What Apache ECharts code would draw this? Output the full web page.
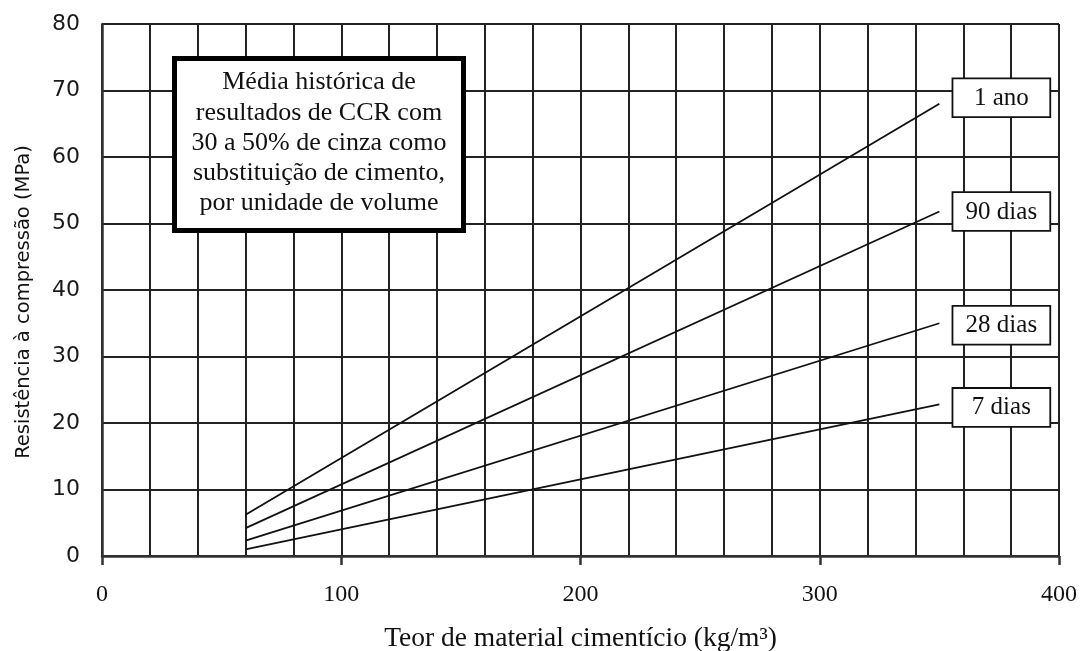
<!DOCTYPE html>
<html>
<head>
<meta charset="utf-8">
<script src="https://cdn.jsdelivr.net/npm/echarts@6/dist/echarts.min.js"></script>
<style>
  html, body { margin: 0; padding: 0; background: #fff; }
  #chart { width: 1082px; height: 651px; }
</style>
</head>
<body>
<div id="chart"></div>
<script>
// Cement content (kg/m³) at the two ends of each strength line
const cementContent = [60, 350];

// Compressive strength (MPa) by age, at the cement contents above
const strength1Year = [6.2, 68.0];
const strength90Days = [4.2, 51.8];
const strength28Days = [2.3, 35.0];
const strength7Days = [1.0, 22.8];

const seriesNames = ['1 ano', '90 dias', '28 dias', '7 dias'];

const noteLines = [
  'Média histórica de',
  'resultados de CCR com',
  '30 a 50% de cinza como',
  'substituição de cimento,',
  'por unidade de volume'
];

const xAxisTitle = 'Teor de material cimentício (kg/m³)';
const yAxisTitle = 'Resistência à compressão (MPa)';

const serif = '"Liberation Serif", "Times New Roman", serif';
const sans = '"DejaVu Sans", Verdana, sans-serif';
const ink = '#111';
const gridInk = '#222';

function pairs(ys) {
  return cementContent.map((x, i) => [x, ys[i]]);
}

function strengthLine(name, ys, labelOffset) {
  return {
    name: name,
    type: 'line',
    data: pairs(ys),
    showSymbol: false,
    symbol: 'none',
    silent: true,
    z: 5,
    lineStyle: { color: ink, width: 1.8 },
    endLabel: {
      show: true,
      formatter: '{t|' + name + '}',
      distance: 14,
      offset: labelOffset,
      backgroundColor: '#fff',
      borderColor: ink,
      borderWidth: 1.8,
      padding: [5, 12, 4, 12],
      rich: {
        t: {
          width: 72,
          align: 'center',
          fontFamily: serif,
          fontSize: 25,
          lineHeight: 28,
          color: ink
        }
      }
    }
  };
}

const chart = echarts.init(document.getElementById('chart'), null, { renderer: 'canvas' });

chart.setOption({
  animation: false,
  backgroundColor: '#fff',
  grid: { left: 102, right: 23, top: 24, bottom: 95, containLabel: false, outerBoundsMode: 'none' },
  xAxis: {
    type: 'value',
    min: 0,
    max: 400,
    interval: 100,
    name: xAxisTitle,
    nameLocation: 'middle',
    nameGap: 69,
    nameTextStyle: { fontFamily: serif, fontSize: 27.5, color: ink },
    axisLine: { show: true, onZero: false, lineStyle: { color: '#333', width: 2.5 } },
    axisTick: { show: true, inside: false, length: 9, lineStyle: { color: '#333', width: 2.5 } },
    axisLabel: { margin: 27, fontFamily: serif, fontSize: 24, color: ink },
    splitLine: { show: true, lineStyle: { color: gridInk, width: 2 } },
    minorTick: { show: false, splitNumber: 5 },
    minorSplitLine: { show: true, lineStyle: { color: gridInk, width: 2 } }
  },
  yAxis: {
    type: 'value',
    min: 0,
    max: 80,
    interval: 10,
    name: yAxisTitle,
    nameLocation: 'middle',
    nameGap: 68,
    nameTextStyle: { fontFamily: sans, fontSize: 19.5, color: ink, padding: [0, 24, 0, 0] },
    axisLine: { show: true, onZero: false, lineStyle: { color: '#333', width: 2.5 } },
    axisTick: { show: false },
    axisLabel: { margin: 22, fontFamily: sans, fontSize: 22, color: '#1a1a1a' },
    splitLine: { show: true, lineStyle: { color: gridInk, width: 2 } }
  },
  series: [
    strengthLine(seriesNames[0], strength1Year, [0, -6]),
    strengthLine(seriesNames[1], strength90Days, [0, 0]),
    strengthLine(seriesNames[2], strength28Days, [0, 2]),
    strengthLine(seriesNames[3], strength7Days, [0, 3])
  ],
  graphic: [
    {
      type: 'group',
      left: 172,
      top: 56,
      z: 100,
      children: [
        {
          type: 'rect',
          z: 100,
          shape: { x: 2.5, y: 2.5, width: 289, height: 172 },
          style: { fill: '#fff', stroke: '#000', lineWidth: 5 }
        },
        {
          type: 'text',
          z: 101,
          x: 147,
          y: 87,
          style: {
            text: noteLines.join('\n'),
            fontFamily: serif,
            fontSize: 26,
            lineHeight: 30.3,
            fill: ink,
            textAlign: 'center',
            textVerticalAlign: 'middle'
          }
        }
      ]
    }
  ]
});
</script>
</body>
</html>
